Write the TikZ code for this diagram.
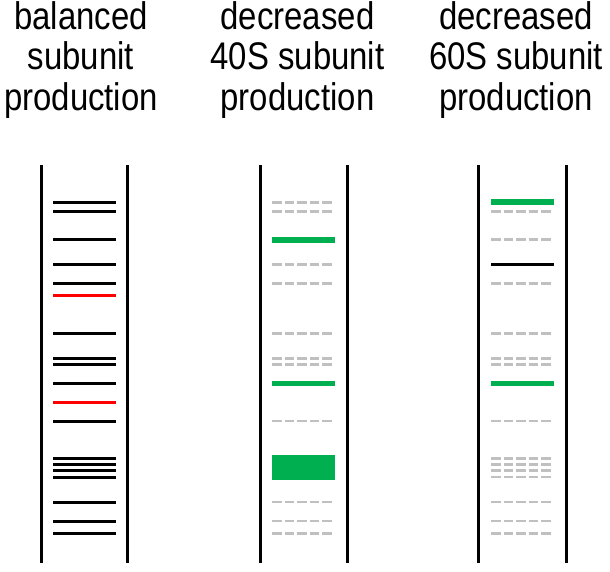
\documentclass[tikz,border=0pt]{standalone}
\usepackage{fontspec}
\newfontfamily\titlefont[FakeStretch=0.855]{Liberation Sans}
\definecolor{bandgreen}{RGB}{0,176,80}
\definecolor{bandred}{RGB}{255,0,0}
\definecolor{bandgray}{RGB}{192,192,192}
\begin{document}
\begin{tikzpicture}[x=1pt,y=-1pt,
  lane/.style={line width=3pt,black},
  blackband/.style={line width=3pt,black},
  redband/.style={line width=3pt,bandred},
  greenband/.style={line width=5.8pt,bandgreen},
  grayband/.style={line width=2.7pt,bandgray,dash pattern=on 9.7pt off 2.8pt},
  title/.style={font=\titlefont\fontsize{38.5}{40.5}\selectfont,anchor=base,inner sep=0pt}]
\useasboundingbox (0,0) rectangle (610,571);
% titles
\node[title] (t1a) at (81,29.3) {balanced};
\node[title] (t1b) at (81,69.8) {subunit};
\node[title] (t1c) at (81,110.3) {production};
\node[title] (t2a) at (297.5,29.3) {decreased};
\node[title] (t2b) at (297.5,69.8) {40S subunit};
\node[title] (t2c) at (297.5,110.3) {production};
\node[title] (t3a) at (516,29.3) {decreased};
\node[title] (t3b) at (516,69.8) {60S subunit};
\node[title] (t3c) at (516,110.3) {production};
% lane borders
\foreach \x in {41,127.7,260,347.3,478.7,566.3}
  \draw[lane] (\x,165) -- (\x,563.3);
% lane 1
\foreach \y in {202.3,211.7,239.7,264.7,283.3,333.3,358.3,364.7,383.3,421,458.3,464.7,470.7,477,502,521,533.3}
  \draw[blackband] (53,\y) -- (116,\y);
\foreach \y in {295.7,402}
  \draw[redband] (53,\y) -- (116,\y);
% lane 2
\foreach \y in {202.3,211.7,264.7,283.3,333.3,358.3,364.7,421,502,521,533.3}
  \draw[grayband] (272,\y) -- (331.7,\y);
\foreach \y in {239.7,383.5}
  \draw[greenband] (272,\y) -- (334.7,\y);
\fill[bandgreen] (272,455.3) rectangle (334.7,480);
% lane 3
\foreach \y in {211.7,239.7,283.3,333.3,358.3,364.7,421,458.3,464.7,470.7,477,502,521,533.3}
  \draw[grayband] (491,\y) -- (550.7,\y);
\foreach \y in {202.2,383.5}
  \draw[greenband] (491,\y) -- (553.7,\y);
\draw[blackband] (491,264.7) -- (553.7,264.7);
\end{tikzpicture}
\end{document}
